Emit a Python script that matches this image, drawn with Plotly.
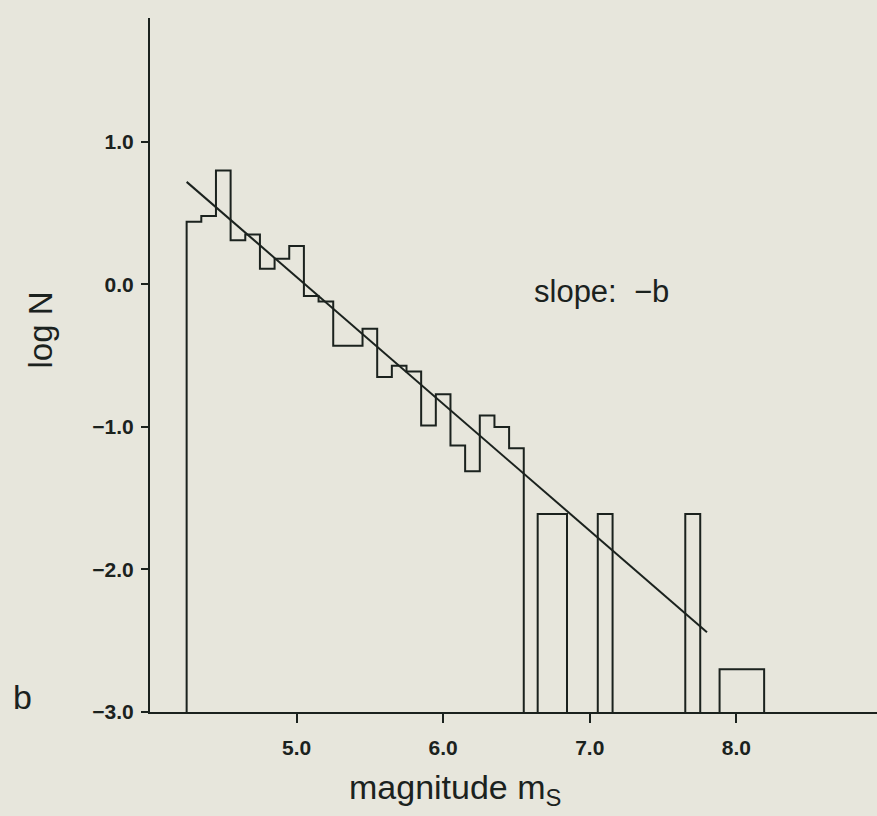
import plotly.graph_objects as go

# ---- data ----
main_edges = [4.25, 4.35, 4.45, 4.55, 4.65, 4.75, 4.85, 4.95, 5.05, 5.15, 5.25, 5.35,
              5.45, 5.55, 5.65, 5.75, 5.85, 5.95, 6.05, 6.15, 6.25, 6.35, 6.45, 6.55]
main_logN = [0.44, 0.48, 0.80, 0.31, 0.35, 0.11, 0.18, 0.27, -0.08, -0.12, -0.43, -0.43,
             -0.31, -0.65, -0.57, -0.61, -0.99, -0.77, -1.13, -1.31, -0.92, -1.00, -1.15]

bar_left = [6.645, 7.055, 7.652, 7.886]
bar_right = [6.845, 7.156, 7.754, 8.19]
bar_logN = [-1.61, -1.61, -1.61, -2.70]

fit_mag = [4.25, 7.80]
fit_logN = [0.72, -2.44]

x_ticks = [5.0, 6.0, 7.0, 8.0]
x_ticklabels = ["5.0", "6.0", "7.0", "8.0"]
y_ticks = [-3.0, -2.0, -1.0, 0.0, 1.0]
y_ticklabels = ["\u22123.0", "\u22122.0", "\u22121.0", "0.0", "1.0"]

BASE = -3.0
INK = "#1b221e"
BG = "#E7E6DC"

# build step outline
xs, ys = [main_edges[0]], [BASE]
for i, v in enumerate(main_logN):
    xs += [main_edges[i], main_edges[i + 1]]
    ys += [v, v]
xs.append(main_edges[-1]); ys.append(BASE)
for l, r, v in zip(bar_left, bar_right, bar_logN):
    xs += [None, l, l, r, r]
    ys += [None, BASE, v, v, BASE]

fig = go.Figure()
fig.add_trace(go.Scatter(x=xs, y=ys, mode="lines", line=dict(color=INK, width=2),
                         connectgaps=False, hoverinfo="skip"))
fig.add_trace(go.Scatter(x=fit_mag, y=fit_logN, mode="lines",
                         line=dict(color=INK, width=2), hoverinfo="skip"))

FONT = "Liberation Sans, Arial, Helvetica, sans-serif"

fig.update_layout(
    width=877, height=816,
    margin=dict(l=150, r=0, t=18, b=104),
    paper_bgcolor=BG, plot_bgcolor=BG,
    showlegend=False,
    font=dict(family=FONT, color=INK),
    xaxis=dict(range=[4.0, 8.96], tickvals=x_ticks, ticktext=x_ticklabels,
               showgrid=False, zeroline=False, showline=True, linecolor=INK, linewidth=2,
               ticks="outside", ticklen=9, tickwidth=2, tickcolor=INK,
               ticklabelstandoff=7,
               tickfont=dict(size=21, family=FONT, color=INK, weight="bold")),
    yaxis=dict(range=[-3.0, 1.87], tickvals=y_ticks, ticktext=y_ticklabels,
               showgrid=False, zeroline=False, showline=True, linecolor=INK, linewidth=2,
               ticks="outside", ticklen=7, tickwidth=2, tickcolor=INK,
               ticklabelstandoff=3,
               tickfont=dict(size=21, family=FONT, color=INK, weight="bold")),
    annotations=[
        dict(text="magnitude m<sub>S</sub>", xref="paper", yref="paper", x=0.42, y=-0.112,
             xanchor="center", yanchor="middle",
             showarrow=False, font=dict(size=34, family=FONT, color=INK)),
        dict(text="log N", xref="paper", yref="paper", x=-0.151, y=0.55, textangle=-90,
             xanchor="center", yanchor="middle",
             showarrow=False, font=dict(size=33, family=FONT, color=INK)),
        dict(text="b", xref="paper", yref="paper", x=-0.176, y=0.021,
             xanchor="center", yanchor="middle",
             showarrow=False, font=dict(size=34, family=FONT, color=INK)),
        dict(text="slope:  \u2212b", xref="x", yref="y", x=7.08, y=-0.05,
             xanchor="center", yanchor="middle",
             showarrow=False, font=dict(size=31, family=FONT, color=INK)),
    ],
)

fig.write_html("out.html")
